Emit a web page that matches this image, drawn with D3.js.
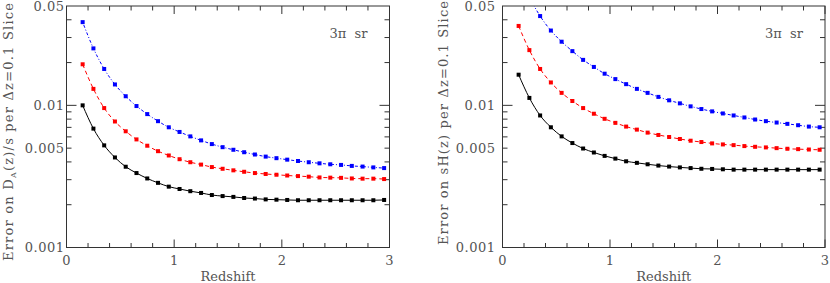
<!DOCTYPE html>
<html>
<head>
<meta charset="utf-8">
<script src="https://cdn.jsdelivr.net/npm/d3@7"></script>
<style>
  body { margin: 0; background: #fff; }
  svg { display: block; }
  text { font-family: "DejaVu Serif", "Liberation Serif", serif; fill: #555; }
</style>
</head>
<body>
<svg id="chart" width="830" height="283"></svg>
<script>
// redshift bins (centres of dz = 0.1 slices)
const redshift = [0.15, 0.25, 0.35, 0.45, 0.55, 0.65, 0.75, 0.85, 0.95, 1.05,
                  1.15, 1.25, 1.35, 1.45, 1.55, 1.65, 1.75, 1.85, 1.95, 2.05,
                  2.15, 2.25, 2.35, 2.45, 2.55, 2.65, 2.75, 2.85, 2.95];

// left panel: error on D_A(z)/s
const daBlack = [0.0100, 0.00686, 0.00523, 0.00430, 0.00370, 0.00334, 0.00306, 0.00285, 0.00268, 0.00258,
                 0.00249, 0.00242, 0.00234, 0.00230, 0.00227, 0.00223, 0.00221, 0.00218, 0.00217, 0.00216,
                 0.00215, 0.00215, 0.00215, 0.00215, 0.00215, 0.00215, 0.00215, 0.00215, 0.00216];
const daRed = [0.01945, 0.01306, 0.00957, 0.00770, 0.00657, 0.00576, 0.00520, 0.00476, 0.00444, 0.00418,
               0.00398, 0.00383, 0.00368, 0.00358, 0.00349, 0.00341, 0.00334, 0.00329, 0.00325, 0.00321,
               0.00318, 0.00315, 0.00311, 0.00310, 0.00309, 0.00306, 0.00305, 0.00305, 0.00303];
const daBlue = [0.0385, 0.02516, 0.01803, 0.01403, 0.01159, 0.00989, 0.00868, 0.00774, 0.00701, 0.00650,
                0.00605, 0.00567, 0.00534, 0.00508, 0.00487, 0.00468, 0.00451, 0.00436, 0.00425, 0.00415,
                0.00406, 0.00398, 0.00391, 0.00385, 0.00381, 0.00375, 0.00371, 0.00366, 0.00362];

// right panel: error on sH(z)
const hBlack = [0.01643, 0.01128, 0.00849, 0.00701, 0.00605, 0.00543, 0.00497, 0.00466, 0.00441, 0.00422,
                0.00404, 0.00394, 0.00385, 0.00377, 0.00371, 0.00366, 0.00362, 0.00358, 0.00357, 0.00355,
                0.00353, 0.00353, 0.00353, 0.00353, 0.00353, 0.00353, 0.00353, 0.00353, 0.00353];
const hRed = [0.0362, 0.02447, 0.01803, 0.01449, 0.01224, 0.01073, 0.00957, 0.00873, 0.00804, 0.00753,
              0.00709, 0.00675, 0.00643, 0.00619, 0.00599, 0.00580, 0.00564, 0.00552, 0.00540, 0.00531,
              0.00525, 0.00517, 0.00511, 0.00506, 0.00500, 0.00495, 0.00492, 0.00489, 0.00487];
const hBlue = [0.0873, 0.058, 0.04248, 0.03360, 0.02804, 0.02407, 0.02089, 0.01863, 0.01670, 0.01530,
               0.01410, 0.01306, 0.01224, 0.01147, 0.01085, 0.01033, 0.00984, 0.00942, 0.00907, 0.00877,
               0.00849, 0.00822, 0.00795, 0.00774, 0.00757, 0.00741, 0.00725, 0.00709, 0.00701];

// ticks
const xMajor = [0, 1, 2, 3];
const xMinor = [0.2, 0.4, 0.6, 0.8, 1.2, 1.4, 1.6, 1.8, 2.2, 2.4, 2.6, 2.8];
const yLabels = [0.001, 0.005, 0.01, 0.05];
const yMajor = [0.001, 0.01];
const yMinor = [0.002, 0.003, 0.004, 0.005, 0.006, 0.007, 0.008, 0.009, 0.02, 0.03, 0.04];

const svg = d3.select("#chart");

const series = [
  { key: "black", color: "#000", dash: null },
  { key: "red", color: "#f00", dash: "4,3" },
  { key: "blue", color: "#00f", dash: "1,2,3,2" }
];

const panels = [
  { id: "da", x0: 66.5, x1: 389.5, y0: 6, y1: 247.5, labelGap: 2,
    data: { black: daBlack, red: daRed, blue: daBlue },
    ylabel: ["Error on D", "A", "(z)/s per \u0394z=0.1 Slice"], ylx: 13, yly: 132, ylen: 258 },
  { id: "h", x0: 502.5, x1: 825, y0: 6, y1: 247.5, labelGap: 7,
    data: { black: hBlack, red: hRed, blue: hBlue },
    ylabel: ["Error on sH(z) per \u0394z=0.1 Slice"], ylx: 448, yly: 123, ylen: 244 }
];

panels.forEach(p => {
  const x = d3.scaleLinear().domain([0, 3]).range([p.x0, p.x1]);
  const y = d3.scaleLog().domain([0.001, 0.05]).range([p.y1, p.y0]);
  const g = svg.append("g");

  g.append("clipPath").attr("id", "clip-" + p.id)
    .append("rect").attr("x", p.x0).attr("y", p.y0)
    .attr("width", p.x1 - p.x0).attr("height", p.y1 - p.y0);

  // frame
  g.append("rect").attr("x", p.x0).attr("y", p.y0)
    .attr("width", p.x1 - p.x0).attr("height", p.y1 - p.y0)
    .attr("fill", "none").attr("stroke", "#333").attr("stroke-width", 1);

  // x ticks, bottom and top
  const xt = xMajor.map(v => ({ v, len: 8 })).concat(xMinor.map(v => ({ v, len: 4.5 })));
  g.selectAll(".xtb").data(xt).enter().append("line")
    .attr("x1", d => x(d.v)).attr("x2", d => x(d.v))
    .attr("y1", p.y1).attr("y2", d => p.y1 - d.len)
    .attr("stroke", "#333");
  g.selectAll(".xtt").data(xt).enter().append("line")
    .attr("x1", d => x(d.v)).attr("x2", d => x(d.v))
    .attr("y1", p.y0).attr("y2", d => p.y0 + d.len)
    .attr("stroke", "#333");

  // y ticks, left and right
  const yt = yMajor.map(v => ({ v, len: 10 })).concat(yMinor.map(v => ({ v, len: 5 })));
  g.selectAll(".ytl").data(yt).enter().append("line")
    .attr("y1", d => y(d.v)).attr("y2", d => y(d.v))
    .attr("x1", p.x0).attr("x2", d => p.x0 + d.len)
    .attr("stroke", "#333");
  g.selectAll(".ytr").data(yt).enter().append("line")
    .attr("y1", d => y(d.v)).attr("y2", d => y(d.v))
    .attr("x1", p.x1).attr("x2", d => p.x1 - d.len)
    .attr("stroke", "#333");

  // tick labels
  g.selectAll(".xl").data(xMajor).enter().append("text")
    .attr("x", d => x(d)).attr("y", 265)
    .attr("text-anchor", "middle").attr("font-size", 13)
    .text(d => d);
  g.selectAll(".yl").data(yLabels).enter().append("text")
    .attr("x", p.x0 - p.labelGap).attr("y", d => y(d))
    .attr("dy", "0.35em")
    .attr("text-anchor", "end").attr("font-size", 13)
    .attr("letter-spacing", 0.5)
    .text(d => d);

  // axis titles
  g.append("text")
    .attr("x", (p.x0 + p.x1) / 2).attr("y", 281)
    .attr("text-anchor", "middle").attr("font-size", 13)
    .text("Redshift");

  const yl = g.append("text")
    .attr("transform", `translate(${p.ylx},${p.yly}) rotate(-90)`)
    .attr("text-anchor", "middle").attr("font-size", 13)
    .attr("textLength", p.ylen).attr("lengthAdjust", "spacing");
  yl.append("tspan").text(p.ylabel[0]);
  if (p.ylabel.length > 1) {
    yl.append("tspan").attr("font-size", 8).attr("dy", 3).text(p.ylabel[1]);
    yl.append("tspan").attr("dy", -3).text(p.ylabel[2]);
  }

  g.append("text")
    .attr("x", p.x1 - 22).attr("y", 38)
    .attr("text-anchor", "end").attr("font-size", 13)
    .attr("xml:space", "preserve")
    .text("3\u03c0  sr");

  // series
  const plot = g.append("g").attr("clip-path", `url(#clip-${p.id})`);
  const line = d3.line().x(d => x(d[0])).y(d => y(d[1])).curve(d3.curveMonotoneX);
  series.forEach(s => {
    const pts = redshift.map((z, i) => [z, p.data[s.key][i]]);
    plot.append("path").datum(pts)
      .attr("d", line)
      .attr("fill", "none").attr("stroke", s.color).attr("stroke-width", 1)
      .attr("stroke-dasharray", s.dash);
    plot.selectAll(null).data(pts).enter().append("rect")
      .attr("x", d => x(d[0]) - 2).attr("y", d => y(d[1]) - 2)
      .attr("width", 4).attr("height", 4)
      .attr("fill", s.color);
  });
});
</script>
</body>
</html>
